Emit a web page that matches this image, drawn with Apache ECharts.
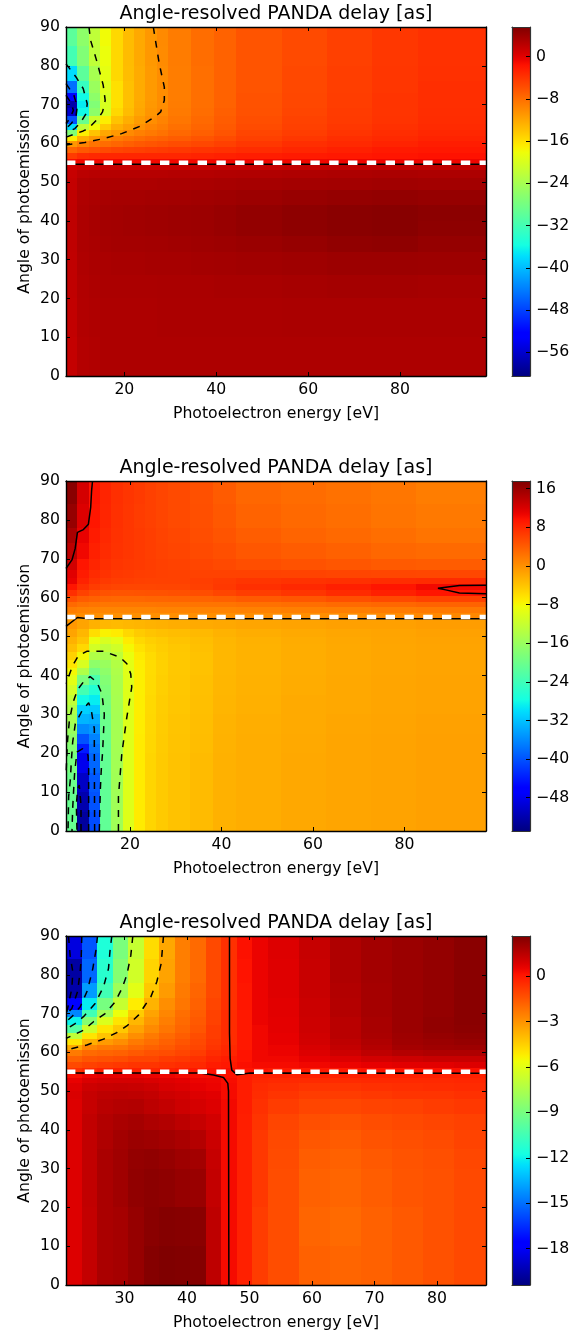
<!DOCTYPE html>
<html><head><meta charset="utf-8">
<style>html,body{margin:0;padding:0;background:#fff}#c{width:586px;height:1332px}</style>
<script src="https://cdn.jsdelivr.net/npm/echarts@6/dist/echarts.min.js"></script>
</head><body><div id="c"></div>
<script>
const titleText = "Angle-resolved PANDA delay [as]";
const xName = "Photoelectron energy [eV]";
const yName = "Angle of photoemission";

// ---- Panel A ----
const energyTicksA = [20,40,60,80];
const colorTicksA = [0,-8,-16,-24,-32,-40,-48,-56];
const colorRangeA = [-60.5,5.6];
const energyEdgesA = [7.3,9.8,12.2,14.7,17.2,19.7,22.1,24.6,27.1,29.5,34.5,39.4,44.4,54.2,64.1,74,83.9,98.7];
const angleEdgesA = [0,10,20,26,32,36,40,44,48,51,53,54.7,56,57.5,59,60.5,62,63.5,65,67,69,71,73,76,80,85,90];
const delaysA = [
[1.7,2.6,2.8,3,3,3,3,3,3,3,3,3,3,3,3,3,3],
[1.8,2.7,2.9,3,3,3,3,3,3.1,3.1,3.1,3.1,3.1,3.2,3.2,3.2,3.2],
[1.9,2.8,3,3.1,3.1,3.1,3.1,3.1,3.2,3.2,3.2,3.3,3.3,3.4,3.5,3.5,3.4],
[1.9,2.9,3.1,3.2,3.3,3.3,3.3,3.4,3.4,3.4,3.5,3.6,3.7,3.8,4,4,3.9],
[2,3,3.2,3.4,3.5,3.5,3.5,3.6,3.6,3.7,3.8,3.9,4.1,4.3,4.6,4.7,4.4],
[2,3,3.3,3.5,3.6,3.7,3.7,3.8,3.8,3.9,4,4.2,4.5,4.8,5,5.1,4.8],
[2,3,3.3,3.5,3.6,3.7,3.7,3.8,3.8,3.9,4,4.2,4.5,4.8,5,5.1,4.9],
[1.9,2.9,3.1,3.3,3.4,3.4,3.4,3.5,3.5,3.6,3.7,3.8,4,4.2,4.4,4.5,4.3],
[1.7,2.7,2.9,3,3,3,3,3,3.1,3.1,3.2,3.3,3.4,3.5,3.6,3.7,3.6],
[1.5,2.2,2.4,2.5,2.5,2.5,2.5,2.5,2.5,2.6,2.6,2.7,2.8,2.9,3,3.1,3],
[1,1.4,1.5,1.5,1.5,1.5,1.5,1.5,1.6,1.6,1.6,1.7,1.7,1.8,1.9,2,2],
[-1.2,-1,-1,-1,-1,-1,-1,-1,-1,-1,-1,-1,-.9,-.9,-.8,-.8,-.8],
[-4.5,-3.5,-3.2,-3,-3,-3,-3,-3,-3,-3,-2.8,-2.6,-2.4,-2.2,-2,-1.8,-1.6],
[-7.5,-6.5,-6,-5.5,-5.2,-5,-4.8,-4.6,-4.5,-4.3,-4,-3.8,-3.4,-3,-2.6,-2.2,-2],
[-11,-9.5,-8.5,-8,-7.5,-7,-6.6,-6.3,-6,-5.7,-5.3,-4.8,-4.2,-3.6,-3.2,-2.8,-2.4],
[-17,-12.5,-11,-10,-9,-8.5,-8,-7.5,-7.2,-6.8,-6.2,-5.6,-4.8,-4.2,-3.6,-3.2,-2.8],
[-27,-17,-14,-12,-11,-10,-9.3,-8.8,-8.3,-7.6,-7,-6.2,-5.2,-4.6,-4,-3.5,-3.1],
[-38,-22,-18,-14.5,-12.5,-11.5,-10.5,-9.6,-9,-8.2,-7.4,-6.6,-5.6,-4.8,-4.2,-3.7,-3.3],
[-47,-29,-21,-17,-14,-12.5,-11.3,-10.3,-9.5,-8.6,-7.7,-6.8,-5.8,-5,-4.4,-3.9,-3.4],
[-56,-36,-26,-20,-15.5,-13.5,-12,-10.8,-10,-8.9,-8,-7,-6,-5.2,-4.5,-4,-3.5],
[-58,-37,-27,-20,-16,-13.8,-12.2,-11,-10.2,-9,-8.1,-7.2,-6.1,-5.3,-4.6,-4,-3.6],
[-52,-36,-26,-20,-16,-13.8,-12.3,-11.1,-10.2,-9.1,-8.1,-7.2,-6.1,-5.3,-4.6,-4,-3.6],
[-45,-33,-25,-19.5,-16,-13.8,-12.3,-11.1,-10.2,-9.1,-8.1,-7.2,-6.2,-5.4,-4.7,-4.1,-3.6],
[-38,-30,-24,-19,-15.5,-13.6,-12.3,-11.1,-10.2,-9.1,-8.1,-7.2,-6.2,-5.4,-4.7,-4.1,-3.7],
[-32,-27,-22,-18.5,-15.5,-13.5,-12.2,-11,-10.1,-9,-8,-7.2,-6.2,-5.5,-4.8,-4.2,-3.8],
[-30,-26,-22,-18,-15.5,-13.5,-12.2,-11,-10,-9,-8,-7.2,-6.2,-5.5,-4.8,-4.2,-3.8]
];
const dashedA = [
[[26.3,90],[27.6,80.5],[28.7,74.5],[28.7,71.1],[27.9,68.1],[26.6,66.8],[23.4,64.4],[19.4,62.5],[15.4,61.2],[11.4,60.2],[7.3,59.6]],
[[12.3,90],[12.64,86.6],[13.95,81.4],[15.4,75],[15.83,71.1],[15.25,68.1],[14.3,66.4],[12.14,63.8],[11.05,63.2],[7.3,61.6]],
[[7.3,80.5],[9.6,76.9],[11.05,74.1],[11.92,70.2],[11.63,67.6],[10.54,65.5],[9.24,63.8],[7.3,62.7]],
[[7.3,75.4],[9.02,72.4],[9.75,69.4],[9.46,66.8],[8.5,65.2],[7.3,63.8]],
[[7.3,72.4],[8.5,70.2],[8.9,68.5],[8.15,66.4],[7.3,65.1]]
];
const solidA = [
[[7.3,54.6],[98.7,54.6]]
];

// ---- Panel B ----
const energyTicksB = [20,40,60,80];
const colorTicksB = [16,8,0,-8,-16,-24,-32,-40,-48];
const colorRangeB = [-54.9,17.6];
const energyEdgesB = [6,8.47,10.94,13.41,15.88,18.35,20.82,23.29,25.76,28.23,33.17,38.11,43.05,52.9,62.8,72.7,82.6,97.8];
const angleEdgesB = [0,5,10,15,20,22.5,25,27.5,30,32.5,35,37.5,40,42,44,46,48,50,52,54.6,56,57.5,59,60.5,62,63.5,65,67,70,74,78,84,90];
const delaysB = [
[-20.5,-53,-40.5,-21,-15.4,-10,-7,-5.3,-4.4,-3.8,-3.3,-2.5,-2.2,-1.8,-1.6,-1.4,-1.2],
[-20.5,-52,-40,-21,-15.4,-10,-7,-5.3,-4.4,-3.8,-3.3,-2.5,-2.2,-1.8,-1.6,-1.4,-1.2],
[-20,-50.5,-39.5,-21,-15.3,-10,-7,-5.3,-4.4,-3.8,-3.3,-2.5,-2.2,-1.8,-1.6,-1.4,-1.2],
[-19,-48,-38.5,-20.8,-15.2,-10,-7,-5.3,-4.4,-3.8,-3.3,-2.5,-2.2,-1.8,-1.6,-1.4,-1.2],
[-18,-44,-37.5,-20.6,-15.1,-10,-7,-5.4,-4.5,-3.9,-3.4,-2.6,-2.2,-1.9,-1.6,-1.4,-1.2],
[-17,-40,-36.5,-20.4,-15,-10,-7,-5.4,-4.5,-3.9,-3.4,-2.6,-2.2,-1.9,-1.6,-1.4,-1.2],
[-16,-36,-35,-20.2,-15,-10,-7.1,-5.5,-4.6,-4,-3.5,-2.7,-2.3,-2,-1.7,-1.5,-1.3],
[-15,-33,-33.5,-20,-15,-10,-7.1,-5.5,-4.6,-4,-3.5,-2.7,-2.3,-2,-1.7,-1.5,-1.3],
[-14,-31,-31.5,-19.5,-14.9,-10,-7.2,-5.6,-4.7,-4.1,-3.6,-2.8,-2.4,-2,-1.8,-1.6,-1.4],
[-12.5,-28,-29,-19,-14.8,-10,-7.2,-5.6,-4.7,-4.1,-3.6,-2.8,-2.4,-2,-1.8,-1.6,-1.4],
[-11,-23.5,-26.5,-18.6,-14.6,-10,-7.3,-5.7,-4.8,-4.2,-3.7,-2.9,-2.5,-2.1,-1.8,-1.6,-1.4],
[-9.5,-18.5,-23,-18,-14.5,-10,-7.3,-5.7,-4.8,-4.2,-3.7,-2.9,-2.5,-2.1,-1.8,-1.6,-1.4],
[-8,-14,-19.5,-17,-14.2,-9.8,-7.3,-5.8,-5,-4.3,-3.8,-3,-2.6,-2.2,-1.9,-1.7,-1.5],
[-6.5,-10.5,-17,-16,-13.8,-9.5,-7.2,-5.8,-5,-4.3,-3.8,-3,-2.6,-2.2,-1.9,-1.7,-1.5],
[-5,-8,-14,-14.5,-12.8,-9,-6.9,-5.7,-4.9,-4.3,-3.8,-3,-2.6,-2.2,-1.9,-1.7,-1.5],
[-3.5,-5.5,-11,-12.5,-11.3,-8,-6.3,-5.3,-4.7,-4.2,-3.7,-3,-2.6,-2.2,-1.9,-1.7,-1.5],
[-2.5,-4,-9,-10.5,-9.5,-7,-5.5,-4.8,-4.4,-3.9,-3.5,-2.9,-2.5,-2.1,-1.8,-1.6,-1.4],
[-1.5,-3,-6,-7.5,-7,-5.5,-4.5,-4,-3.7,-3.4,-3.1,-2.6,-2.2,-1.9,-1.7,-1.5,-1.3],
[-.5,-1.5,-2.5,-3,-3.2,-3,-2.8,-2.6,-2.4,-2.2,-2,-1.8,-1.6,-1.4,-1.2,-1.2,-1],
[.5,.3,.1,0,0,0,0,0,0,.1,.1,.1,.2,.2,.2,.4,.6],
[1.5,1.2,1,.9,.9,.9,.9,.9,1,1,1,1,1.2,1.3,1.4,1.6,1.8],
[3,2.5,2.2,2,2,2,2,2,2.1,2.1,2.2,2.2,2.4,2.6,2.9,3.2,3.5],
[5,4,3.6,3.3,3.2,3.2,3.2,3.3,3.3,3.4,3.5,3.7,4.2,4.5,5,5.5,6],
[7.5,6,5.2,4.8,4.6,4.6,4.7,4.8,4.8,4.9,5.2,5.8,6.4,7,7.8,8.6,9.5],
[9.5,7.5,6.5,6,5.8,5.7,5.7,5.7,5.8,5.8,6.2,6.8,7.5,8,8.7,9.5,10.4],
[11,8.5,7.2,6.7,6.4,6.3,6.2,6.1,6.1,6.1,6.3,6.6,7,7.2,7.4,7.6,7.8],
[11.5,9,7.8,7.2,6.8,6.6,6.4,6.3,6.2,6.1,6,6,6,5.9,5.8,5.7,5.6],
[12.5,9.5,8.2,7.5,7,6.8,6.6,6.4,6.2,6,5.8,5.5,5.1,4.8,4.5,4.2,4],
[13.8,10.5,8.6,7.8,7.2,6.9,6.6,6.3,6,5.8,5.4,5,4.4,4,3.6,3.2,2.9],
[15,11,9,8,7.3,6.9,6.6,6.3,5.9,5.6,5.2,4.6,3.9,3.4,3,2.6,2.2],
[16.2,11.8,9.4,8.2,7.4,6.9,6.5,6.2,5.8,5.4,5,4.3,3.5,3,2.6,2.2,1.8],
[17,12.3,9.6,8.3,7.5,7,6.6,6.2,5.8,5.4,4.9,4.1,3.2,2.8,2.4,2,1.5]
];
const dashedB = [
[[17.46,0],[17.46,8.8],[18.2,19.9],[19.3,29.3],[20.37,37],[20.15,40.4],[19.3,43],[17.8,44.7],[14.2,46.2],[10.54,46.2],[8.72,45.1],[7.49,42.6],[6,37.9]],
[[13.28,0],[13.5,10.5],[13.7,15.6],[14,20.3],[14.2,25.3],[14.37,30],[13.86,35.3],[12.73,38.3],[11.27,39.7],[9.8,38.3],[8.5,36.3],[7.53,33],[6.73,28.3],[6.36,23.6],[6.15,18.9],[6,14]],
[[12.26,0],[12.19,20],[12.19,26.3],[11.82,28.9],[11.53,31],[10.95,33],[9.5,30.9],[8.04,27.6],[7.46,22.9],[7.16,17.8],[6.95,13.2],[6.58,8.8],[6.44,0]],
[[10.95,0],[10.95,16.5],[10.8,19.5],[9.64,21.2],[8.4,20.3],[7.9,15.2],[7.67,10.5],[7.46,5.8],[7.31,0]],
[[9.28,0],[9.28,6.7],[8.9,11.8],[8.55,10.9],[8.26,6.7],[8.4,0]]
];
const solidB = [
[[6,52.6],[8.5,54.9],[10.9,54.6],[97.8,54.6]],
[[6,67.5],[7.3,69.7],[8,72.6],[8.5,76.8],[9.8,77.5],[10.9,78.9],[11.4,83.3],[11.6,87.6],[11.8,90]],
[[97.8,63.2],[92,63.1],[87.3,62.4],[89,62],[92,61.2],[97.8,61]]
];

// ---- Panel C ----
const energyTicksC = [30,40,50,60,70,80];
const colorTicksC = [0,-3,-6,-9,-12,-15,-18];
const colorRangeC = [-20.4,2.65];
const energyEdgesC = [20.64,23.12,25.6,28.08,30.56,33.04,35.52,38,40.48,42.96,45.44,47.92,50.4,52.88,57.84,62.8,67.76,72.72,77.68,82.64,87.84];
const angleEdgesC = [0,10,20,30,35,40,44,48,50,52,53.5,54.7,56,57.5,59,60.5,62,63.5,65,67,69,71,74,78,84,90];
const delaysC = [
[.8,1.3,1.8,1.9,2.2,2.55,2.65,2.6,2.55,1.4,.3,-.2,-.9,-1.3,-1.8,-1.9,-1.8,-1.6,-1.4,-1.2],
[.8,1.3,1.8,1.9,2.2,2.45,2.55,2.5,2.45,1.4,.3,-.2,-.9,-1.3,-1.9,-2,-1.8,-1.6,-1.4,-1.2],
[.8,1.35,1.8,2,2.3,2.4,2.35,2.2,2.15,1.3,.3,-.2,-.8,-1.3,-1.8,-1.9,-1.7,-1.5,-1.4,-1.2],
[.8,1.35,1.8,2,2.25,2.3,2.2,2.05,1.95,1.25,.3,-.2,-.8,-1.25,-1.7,-1.8,-1.6,-1.45,-1.35,-1.15],
[.8,1.35,1.7,1.95,2.1,2.05,1.95,1.8,1.6,1.15,.3,-.2,-.8,-1.2,-1.55,-1.65,-1.45,-1.35,-1.25,-1.05],
[.8,1.35,1.65,1.8,1.9,1.75,1.65,1.45,1.25,1,.35,-.15,-.7,-1.1,-1.35,-1.45,-1.3,-1.2,-1.1,-1],
[.8,1.25,1.5,1.6,1.65,1.45,1.3,1.1,.95,.8,.35,-.1,-.6,-.9,-1.1,-1.15,-1.05,-1,-.9,-.8],
[.85,1.25,1.4,1.45,1.4,1.3,1.1,1,.8,.7,.3,-.1,-.5,-.7,-.9,-.9,-.8,-.7,-.7,-.6],
[.75,1.1,1.2,1.25,1.2,1.1,.9,.8,.6,.5,.3,-.1,-.45,-.55,-.7,-.7,-.6,-.55,-.5,-.45],
[.55,.85,.95,.95,.95,.85,.75,.65,.5,.45,.25,-.1,-.35,-.4,-.45,-.45,-.4,-.4,-.4,-.35],
[.25,.5,.6,.6,.6,.5,.45,.35,.3,.3,.15,-.1,-.25,-.2,-.2,-.2,-.2,-.2,-.2,-.2],
[-.6,-.4,-.2,-.2,-.2,-.3,-.2,-.1,0,.1,.2,.1,.1,0,0,0,.1,.1,.2,.2],
[-1.2,-1,-.9,-.8,-.7,-.7,-.6,-.5,-.4,-.1,0,.2,.3,.3,.4,.5,.6,.7,.7,.8],
[-1.8,-1.5,-1.4,-1.3,-1.1,-1.1,-.9,-.8,-.6,-.3,-.1,.1,.4,.4,.6,.8,1,1.1,1.2,1.2],
[-2.4,-2,-1.9,-1.8,-1.6,-1.4,-1.3,-1.1,-.9,-.5,-.3,.1,.4,.5,.8,1.1,1.4,1.6,1.7,1.7],
[-3.6,-2.7,-2.4,-2.3,-2,-1.8,-1.6,-1.3,-1.1,-.7,-.4,0,.4,.5,.9,1.3,1.6,1.9,2,2.05],
[-5,-3.7,-3.2,-2.9,-2.4,-2.1,-1.8,-1.5,-1.2,-.8,-.5,0,.4,.6,1,1.4,1.7,2,2.1,2.2],
[-7,-5,-4.2,-3.6,-2.9,-2.4,-2,-1.7,-1.3,-.9,-.5,0,.4,.6,1.05,1.5,1.8,2.05,2.2,2.3],
[-10,-6.6,-5,-4.3,-3.4,-2.8,-2.3,-1.9,-1.5,-.9,-.5,0,.4,.65,1.1,1.5,1.85,2.1,2.3,2.4],
[-12,-8.6,-6.2,-5,-3.9,-3.1,-2.5,-2,-1.6,-1,-.5,0,.5,.65,1.1,1.5,1.85,2.1,2.3,2.45],
[-14.5,-10.5,-7.8,-5.7,-4.4,-3.4,-2.7,-2.1,-1.7,-1,-.5,0,.5,.7,1.15,1.6,1.9,2.1,2.25,2.45],
[-17.5,-12.2,-9,-6.8,-5.2,-3.8,-2.9,-2.3,-1.8,-1.1,-.6,.05,.5,.7,1.15,1.6,1.9,2.1,2.25,2.45],
[-19.6,-14,-10.5,-7.9,-6,-4.3,-3.2,-2.4,-1.9,-1.2,-.6,.05,.5,.75,1.2,1.65,1.9,2.1,2.25,2.45],
[-19.7,-15.2,-11.2,-8.6,-6.5,-4.6,-3.4,-2.5,-2,-1.2,-.6,.1,.5,.75,1.2,1.7,1.95,2.1,2.25,2.45],
[-18.5,-15.6,-11.5,-8.9,-6.8,-4.8,-3.5,-2.5,-2,-1.2,-.6,.15,.5,.8,1.25,1.7,1.95,2.1,2.25,2.45]
];
const dashedC = [
[[36.24,90],[35.87,82.9],[35.17,78.2],[34.21,74.3],[33.31,72.2],[32.24,69.6],[30.37,66.8],[28.77,65.1],[26.64,63.4],[23.97,61.9],[20.64,60.6]],
[[31.33,90],[31.01,85],[30.37,79.9],[29.57,76.4],[28.5,73],[26.9,70],[25.04,67.9],[23.44,65.7],[20.64,63.6]],
[[27.97,90],[27.71,86.7],[27.44,81.6],[26.64,76.9],[25.31,72.6],[23.44,69.2],[22.1,67.4],[20.64,65.9]],
[[25.68,90],[25.47,86.7],[24.93,81.6],[24.08,76],[22.9,71.7],[21.57,69.2],[20.64,67.9]],
[[23.17,90],[23.07,84.2],[22.9,80.7],[22.48,75.6],[21.57,71.3],[20.64,69.8]],
[[21.04,90],[21.3,85],[21.73,80.7],[21.57,76.4],[20.77,70.4]]
];
const solidC = [
[[20.64,54.7],[42.1,54.7],[44.24,54.15],[45.84,53.5],[46.53,52],[46.64,50],[46.7,0]],
[[46.8,90],[46.8,65],[46.9,58.4],[47.17,55.4],[47.97,54.2],[50.1,54.7],[87.84,54.6]]
];

const magicAngle = 55;
const panelsTop = [27,481,936];

function jetChannel(t, pts){
  for (let i=1;i<pts.length;i++){
    if (t<=pts[i][0]){
      const a=pts[i-1],b=pts[i];
      return a[1]+(b[1]-a[1])*(t-a[0])/(b[0]-a[0]);
    }
  }
  return pts[pts.length-1][1];
}
function jet(t){
  t=Math.max(0,Math.min(1,t));
  const r=jetChannel(t,[[0,0],[.35,0],[.66,1],[.89,1],[1,.5]]);
  const g=jetChannel(t,[[0,0],[.125,0],[.375,1],[.64,1],[.91,0],[1,0]]);
  const b=jetChannel(t,[[0,.5],[.11,1],[.34,1],[.65,0],[1,0]]);
  return 'rgb('+Math.round(r*255)+','+Math.round(g*255)+','+Math.round(b*255)+')';
}
const fontFamily='"DejaVu Sans"';
const labelSize=15.7;
const minus=v=>String(v).replace('-','\u2212');
const option={animation:false,backgroundColor:'#fff',title:[],grid:[],xAxis:[],yAxis:[],series:[]};

function addPanel(top,h,eTicks,cTicks,range,eEdges,aEdges,delays,dashed,solid){
  const g=option.grid.length;
  option.title.push({text:titleText,left:271,top:top-27,textAlign:'center',
    textStyle:{fontFamily,fontSize:19,fontWeight:'normal',color:'#000'}});
  option.grid.push({left:66,top,width:420,height:h,containLabel:false});
  const emin=eEdges[0],emax=eEdges[eEdges.length-1];
  const line={show:true,onZero:false,lineStyle:{color:'#000',width:1.4}};
  const xBase={type:'value',gridIndex:g,min:emin,max:emax,z:6,splitLine:{show:false},axisLine:line};
  const yBase={type:'value',gridIndex:g,min:0,max:90,interval:10,z:6,splitLine:{show:false},axisLine:line};
  const xi=option.xAxis.length, yi=option.yAxis.length;
  option.xAxis.push(Object.assign({},xBase,{position:'bottom',name:xName,nameLocation:'middle',nameGap:30,
    nameTextStyle:{fontFamily,fontSize:labelSize,color:'#000'},
    axisTick:{inside:true,length:4,lineStyle:{color:'#000',width:1},customValues:eTicks},
    axisLabel:{customValues:eTicks,fontFamily,fontSize:labelSize,color:'#000',margin:6}}));
  option.xAxis.push(Object.assign({},xBase,{position:'top',
    axisTick:{inside:true,length:4,lineStyle:{color:'#000',width:1},customValues:eTicks},
    axisLabel:{show:false}}));
  option.yAxis.push(Object.assign({},yBase,{position:'left',name:yName,nameLocation:'middle',nameGap:33,nameMoveOverlap:false,
    nameTextStyle:{fontFamily,fontSize:labelSize,color:'#000'},
    axisTick:{inside:true,length:4,lineStyle:{color:'#000',width:1}},
    axisLabel:{fontFamily,fontSize:labelSize,color:'#000',margin:6}}));
  option.yAxis.push(Object.assign({},yBase,{position:'right',
    axisTick:{inside:true,length:4,lineStyle:{color:'#000',width:1}},axisLabel:{show:false}}));

  const cells=[];
  delays.forEach((row,r)=>row.forEach((v,c)=>cells.push([eEdges[c],eEdges[c+1],aEdges[r],aEdges[r+1],v])));
  option.series.push({type:'custom',coordinateSystem:'cartesian2d',xAxisIndex:xi,yAxisIndex:yi,z:1,silent:true,
    clip:true,encode:{x:[0,1],y:[2,3]},data:cells,
    renderItem:(params,api)=>{
      const p0=api.coord([api.value(0),api.value(3)]);
      const p1=api.coord([api.value(1),api.value(2)]);
      const x0=Math.round(p0[0]),y0=Math.round(p0[1]),x1=Math.round(p1[0]),y1=Math.round(p1[1]);
      const col=jet((api.value(4)-range[0])/(range[1]-range[0]));
      return {type:'rect',shape:{x:x0,y:y0,width:x1-x0,height:y1-y0},style:{fill:col}};
    }});
  const addLine=(pts,style,z)=>option.series.push({type:'line',xAxisIndex:xi,yAxisIndex:yi,data:pts,symbol:'none',
    z,silent:true,clip:true,lineStyle:style});
  solid.forEach(p=>addLine(p,{color:'#000',width:1.5,type:'solid'},3));
  dashed.forEach(p=>addLine(p,{color:'#000',width:1.5,type:[7,7]},3));
  addLine([[emin,magicAngle],[emax,magicAngle]],{color:'#fff',width:4.5,type:[9.4,9.4],cap:'butt'},4);

  // colour bar
  const gc=option.grid.length;
  option.grid.push({left:512,top,width:18,height:h});
  const cLine={show:true,onZero:false,lineStyle:{color:'#333',width:1.2}};
  const cxi=option.xAxis.length, cyi=option.yAxis.length;
  option.xAxis.push({type:'value',gridIndex:gc,min:0,max:1,z:6,position:'bottom',axisLine:cLine,axisTick:{show:false},axisLabel:{show:false},splitLine:{show:false}});
  option.xAxis.push({type:'value',gridIndex:gc,min:0,max:1,z:6,position:'top',axisLine:cLine,axisTick:{show:false},axisLabel:{show:false},splitLine:{show:false}});
  option.yAxis.push({type:'value',gridIndex:gc,min:range[0],max:range[1],z:6,position:'right',splitLine:{show:false},axisLine:cLine,
    axisTick:{inside:true,length:4,lineStyle:{color:'#000',width:1},customValues:cTicks},
    axisLabel:{customValues:cTicks,fontFamily,fontSize:labelSize,color:'#000',margin:6,formatter:minus}});
  option.yAxis.push({type:'value',gridIndex:gc,min:range[0],max:range[1],z:6,position:'left',splitLine:{show:false},axisLine:cLine,axisTick:{show:false},axisLabel:{show:false}});
  const stops=[];
  for(let i=0;i<=64;i++)stops.push({offset:i/64,color:jet(1-i/64)});
  option.series.push({type:'custom',coordinateSystem:'cartesian2d',xAxisIndex:cxi,yAxisIndex:cyi,z:1,silent:true,
    encode:{y:[1,2]},data:[[0,range[0],range[1]]],
    renderItem:(params,api)=>{
      const p0=api.coord([0,range[1]]),p1=api.coord([1,range[0]]);
      return {type:'rect',shape:{x:p0[0],y:p0[1],width:p1[0]-p0[0],height:p1[1]-p0[1]},
        style:{fill:new echarts.graphic.LinearGradient(0,0,0,1,stops)}};
    }});
}
addPanel(panelsTop[0],349,energyTicksA,colorTicksA,colorRangeA,energyEdgesA,angleEdgesA,delaysA,dashedA,solidA);
addPanel(panelsTop[1],350,energyTicksB,colorTicksB,colorRangeB,energyEdgesB,angleEdgesB,delaysB,dashedB,solidB);
addPanel(panelsTop[2],349,energyTicksC,colorTicksC,colorRangeC,energyEdgesC,angleEdgesC,delaysC,dashedC,solidC);
const chart=echarts.init(document.getElementById('c'),null,{renderer:'canvas',width:586,height:1332});
chart.setOption(option);
</script></body></html>
